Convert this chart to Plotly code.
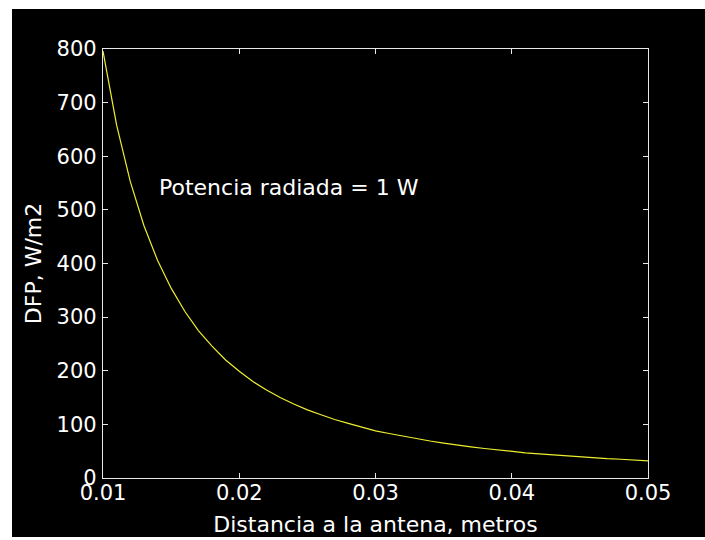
import plotly.graph_objects as go

# Distance from the antenna (m) and power flux density (W/m2) for 1 W radiated
distancia = [0.010, 0.011, 0.012, 0.013, 0.014, 0.015, 0.016, 0.017, 0.018, 0.019,
             0.020, 0.021, 0.022, 0.023, 0.024, 0.025, 0.026, 0.027, 0.028, 0.029,
             0.030, 0.031, 0.032, 0.033, 0.034, 0.035, 0.036, 0.037, 0.038, 0.039,
             0.040, 0.041, 0.042, 0.043, 0.044, 0.045, 0.046, 0.047, 0.048, 0.049,
             0.050]
dfp = [796, 658, 553, 471, 406, 354, 311, 275, 246, 220,
       199, 180, 164, 150, 138, 127, 118, 109, 102, 95,
       88, 83, 78, 73, 69, 65, 61, 58, 55, 52,
       50, 47, 45, 43, 41, 39, 38, 36, 35, 33,
       32]

x_ticks = [0.01, 0.02, 0.03, 0.04, 0.05]
x_tick_text = ["0.01", "0.02", "0.03", "0.04", "0.05"]
y_ticks = [0, 100, 200, 300, 400, 500, 600, 700, 800]

W, H = 705, 540
L, R, T, B = 103, 57, 49, 62
pw, ph = W - L - R, H - T - B

def px_x(x):
    return (x - L) / pw

def px_y(y):
    return (H - B - y) / ph

FONT = "DejaVu Sans"

fig = go.Figure()
fig.add_trace(go.Scatter(
    x=distancia, y=dfp, mode="lines",
    line=dict(color="#eeee30", width=1.2),
    showlegend=False, hoverinfo="skip",
))

axis_common = dict(
    showline=True, linecolor="#e8e8e8", linewidth=1.2,
    mirror="ticks", ticks="inside", ticklen=5, tickwidth=1, tickcolor="#e8e8e8",
    showgrid=False, zeroline=False,
    tickfont=dict(family=FONT, size=21, color="white"),
    automargin=False,
)

fig.update_xaxes(
    range=[0.01, 0.05], tickvals=x_ticks, ticktext=x_tick_text,
    ticklabelstandoff=-4,
    title=dict(text="Distancia a la antena, metros",
               font=dict(family=FONT, size=22, color="white"), standoff=12),
    **axis_common,
)
fig.update_yaxes(
    range=[0, 800], tickvals=y_ticks, ticklabelstandoff=1,
    title=dict(text="DFP, W/m2",
               font=dict(family=FONT, size=22, color="white"), standoff=8),
    **axis_common,
)

fig.add_annotation(
    x=0.013963, y=542, xref="x", yref="y",
    text="Potencia radiada = 1 W", showarrow=False,
    xanchor="left", yanchor="middle",
    font=dict(family=FONT, size=22, color="white"),
)

# black canvas with a thin white frame on the left, top and bottom edges
fig.add_shape(
    type="rect", xref="paper", yref="paper", layer="below",
    x0=px_x(12), x1=px_x(W + 5), y0=px_y(537), y1=px_y(9),
    fillcolor="black", line=dict(width=0),
)

fig.update_layout(
    width=W, height=H,
    margin=dict(l=L, r=R, t=T, b=B),
    paper_bgcolor="white", plot_bgcolor="black",
)

fig.write_html("out.html")
